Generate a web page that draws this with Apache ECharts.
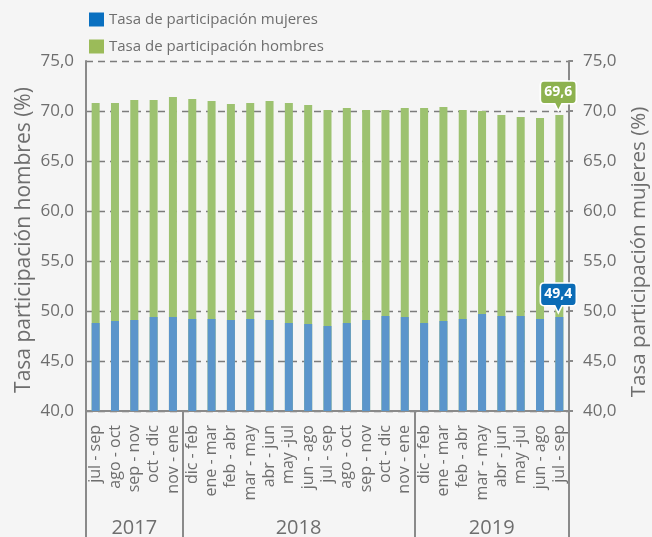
<!DOCTYPE html>
<html>
<head>
<meta charset="utf-8">
<script src="https://cdn.jsdelivr.net/npm/echarts@6/dist/echarts.min.js"></script>
<style>
  html, body { margin: 0; padding: 0; background: #f5f5f5; }
  #chart { width: 652px; height: 537px; }
</style>
</head>
<body>
<div id="chart"></div>
<script>
// periodos moviles trimestrales
var categories = ['jul - sep', 'ago - oct', 'sep - nov', 'oct - dic', 'nov - ene',
  'dic - feb', 'ene - mar', 'feb - abr', 'mar - may', 'abr - jun', 'may -jul', 'jun - ago',
  'jul - sep', 'ago - oct', 'sep - nov', 'oct - dic', 'nov - ene',
  'dic - feb', 'ene - mar', 'feb - abr', 'mar - may', 'abr - jun', 'may -jul', 'jun - ago', 'jul - sep']
var hombres = [70.8, 70.8, 71.1, 71.1, 71.4, 71.2, 71.0, 70.7, 70.8, 71.0, 70.8, 70.6,
  70.1, 70.3, 70.1, 70.1, 70.3, 70.3, 70.4, 70.1, 70.0, 69.6, 69.4, 69.3, 69.6]
var mujeres = [48.8, 49.0, 49.1, 49.4, 49.4, 49.2, 49.2, 49.1, 49.2, 49.1, 48.8, 48.7,
  48.5, 48.8, 49.1, 49.5, 49.4, 48.8, 49.0, 49.2, 49.7, 49.5, 49.5, 49.2, 49.4]
var years = ['2017', '2018', '2019']
var yearSpans = [5, 12, 8]

var grey = '#6e6e6e'
var lineGrey = '#8a8a8a'
var fmt = function (v) { return v.toFixed(1).replace('.', ',') }

// limites y centros de cada año en unidades de categoria
var bounds = [0]
var centers = []
yearSpans.forEach(function (n, i) {
  centers.push(bounds[i] + n / 2)
  bounds.push(bounds[i] + n)
})

var callout = 'path://M4,0 L36,0 Q40,0 40,4 L40,18 Q40,22 36,22 L24,22 L20,29 L16,22 L4,22 Q0,22 0,18 L0,4 Q0,0 4,0 Z'
var last = categories.length - 1

function bubble(value, color) {
  return {
    symbol: callout,
    symbolSize: [36, 30],
    symbolKeepAspect: false,
    symbolOffset: [-1, -19],
    itemStyle: { color: color, borderColor: '#fff', borderWidth: 1.5 },
    label: {
      show: true, color: '#fff', fontWeight: 'bold', fontSize: 14,
      fontFamily: 'Open Sans', offset: [0, -3.5],
      formatter: function () { return fmt(value) }
    },
    data: [{ coord: [last, value] }]
  }
}

var chart = echarts.init(document.getElementById('chart'))
chart.setOption({
  backgroundColor: '#f5f5f5',
  animation: false,
  textStyle: { fontFamily: 'Open Sans' },
  legend: {
    orient: 'vertical',
    left: 84,
    top: 7,
    itemWidth: 15,
    itemHeight: 14,
    itemGap: 12,
    icon: 'rect',
    textStyle: { color: grey, fontSize: 15, fontFamily: 'Open Sans' },
    data: [
      { name: 'Tasa de participación mujeres', itemStyle: { color: '#0a70c0' } },
      { name: 'Tasa de participación hombres', itemStyle: { color: '#9bbb59' } }
    ]
  },
  grid: { left: 86, right: 83, top: 61, bottom: 126, outerBoundsMode: 'none' },
  xAxis: [
    {
      type: 'category',
      data: categories,
      position: 'bottom',
      axisLine: { lineStyle: { color: lineGrey, width: 2 } },
      axisTick: { length: 92, lineStyle: { color: lineGrey, width: 2 } },
      axisLabel: {
        rotate: 90, interval: 0, margin: 14,
        color: grey, fontSize: 16, fontFamily: 'Open Sans'
      },
      splitLine: { show: false }
    },
    {
      type: 'value',
      position: 'bottom',
      min: 0,
      max: categories.length,
      axisLine: { show: false },
      splitLine: { show: false },
      axisTick: {
        show: true, length: 130, customValues: bounds,
        lineStyle: { color: lineGrey, width: 2 }
      },
      axisLabel: {
        margin: 107, customValues: centers,
        color: grey, fontSize: 20, fontFamily: 'Open Sans',
        formatter: function (v) { return years[centers.indexOf(v)] }
      }
    }
  ],
  yAxis: [
    {
      type: 'value',
      min: 40, max: 75, interval: 5,
      name: 'Tasa participación hombres (%)',
      nameLocation: 'middle',
      nameGap: 51,
      nameMoveOverlap: false,
      nameTextStyle: { color: grey, fontSize: 21, fontFamily: 'Open Sans', padding: [0, 8, 0, 0] },
      axisLine: { show: true, lineStyle: { color: lineGrey, width: 2 } },
      axisTick: { show: false },
      axisLabel: { margin: 12, color: grey, fontSize: 17, formatter: fmt },
      splitLine: { lineStyle: { color: '#7c7c7c', type: [7, 5], width: 1.3 } }
    },
    {
      type: 'value',
      min: 40, max: 75, interval: 5,
      position: 'right',
      name: 'Tasa participación mujeres (%)',
      nameLocation: 'middle',
      nameGap: 60,
      nameMoveOverlap: false,
      nameTextStyle: { color: grey, fontSize: 20.5, fontFamily: 'Open Sans', padding: [0, 32, 0, 0] },
      axisLine: { show: true, lineStyle: { color: lineGrey, width: 2 } },
      axisTick: { show: true, length: 4, lineStyle: { color: lineGrey, width: 2 } },
      axisLabel: { margin: 14, color: grey, fontSize: 17, formatter: fmt },
      splitLine: { show: false }
    }
  ],
  series: [
    {
      name: 'Tasa de participación hombres',
      type: 'bar',
      yAxisIndex: 0,
      barWidth: 8,
      barGap: '-100%',
      itemStyle: { color: '#9dc270' },
      data: hombres,
      markPoint: bubble(hombres[last], '#8db24f')
    },
    {
      name: 'Tasa de participación mujeres',
      type: 'bar',
      yAxisIndex: 1,
      barWidth: 8,
      barGap: '-100%',
      itemStyle: { color: '#5b95cb' },
      data: mujeres,
      markPoint: bubble(mujeres[last], '#0b6cb6')
    }
  ]
})
</script>
</body>
</html>
